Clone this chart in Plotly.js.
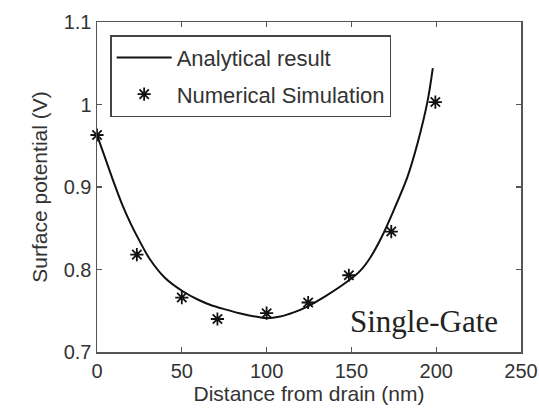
<!DOCTYPE html>
<html>
<head>
<meta charset="utf-8">
<script src="https://cdn.plot.ly/plotly-3.0.1.min.js"></script>
<style>html,body{margin:0;padding:0;background:#fff;}#chart{width:539px;height:419px;}</style>
</head>
<body>
<div id="chart"></div>
<script>
// Analytical result (line)
const analyticX = [0, 5, 10, 15, 20, 25, 31, 40, 51, 60, 67, 75, 84, 96, 100, 108, 116, 124, 135, 148, 155, 161, 168, 175, 183, 189, 195, 198];
const analyticY = [0.963, 0.934, 0.905, 0.878, 0.855, 0.835, 0.813, 0.790, 0.773, 0.763, 0.757, 0.752, 0.747, 0.742, 0.741, 0.743, 0.748, 0.755, 0.768, 0.786, 0.798, 0.814, 0.840, 0.872, 0.912, 0.953, 1.005, 1.044];
// Numerical Simulation (asterisks)
const simX = [0, 23.5, 50, 71, 100, 124.5, 148.5, 173.5, 199.5];
const simY = [0.963, 0.818, 0.766, 0.740, 0.747, 0.760, 0.793, 0.846, 1.003];
const xTicks = [0, 50, 100, 150, 200, 250];
const yTicks = [0.7, 0.8, 0.9, 1, 1.1];

const font = 'Liberation Sans, Arial, sans-serif';
const traces = [
  {x: analyticX, y: analyticY, mode: 'lines', name: 'Analytical result',
   line: {color: '#111', width: 2, shape: 'spline', smoothing: 0.8}, legendgroup: 'a'},
  {x: simX, y: simY, mode: 'markers', name: 'Numerical Simulation',
   marker: {symbol: 'asterisk-open', size: 11, color: '#111', line: {color: '#111', width: 1.8}},
   cliponaxis: false, legendgroup: 'b'}
];
const axisCommon = {
  showgrid: false, zeroline: false, showline: true, linecolor: '#555', linewidth: 1.5,
  mirror: 'ticks', ticks: 'inside', ticklen: 5, tickcolor: '#555', tickwidth: 1.2,
  tickfont: {family: font, size: 20, color: '#333'}
};
const layout = {
  width: 539, height: 419,
  margin: {l: 97, r: 18, t: 22, b: 67},
  paper_bgcolor: '#fff', plot_bgcolor: '#fff',
  showlegend: true,
  legend: {x: 0.031, y: 0.96, xanchor: 'left', yanchor: 'top',
    bordercolor: '#444', borderwidth: 1.5, bgcolor: '#fff',
    font: {family: font, size: 22, color: '#333'},
    traceorder: 'grouped', tracegroupgap: 5, itemwidth: 55},
  xaxis: Object.assign({}, axisCommon, {range: [0, 250], tickvals: xTicks, ticktext: xTicks.map(String),
    title: {text: 'Distance from drain (nm)', font: {family: font, size: 21, color: '#333'}, standoff: 6}}),
  yaxis: Object.assign({}, axisCommon, {range: [0.7, 1.1], tickvals: yTicks, ticktext: yTicks.map(String),
    title: {text: 'Surface potential (V)', font: {family: font, size: 21, color: '#333'}, standoff: 10}}),
  annotations: [{x: 193, y: 0.737, xref: 'x', yref: 'y', text: 'Single-Gate', showarrow: false,
    font: {family: 'Liberation Serif, Times New Roman, serif', size: 31, color: '#222'}}]
};
Plotly.newPlot('chart', traces, layout, {displayModeBar: false, staticPlot: true});
</script>
</body>
</html>
